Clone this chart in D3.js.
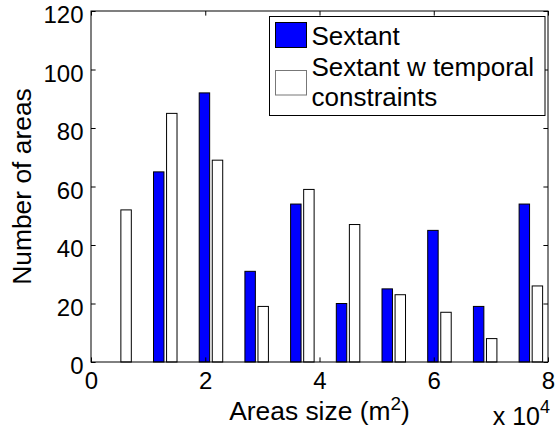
<!DOCTYPE html>
<html>
<head>
<meta charset="utf-8">
<script src="https://cdn.jsdelivr.net/npm/d3@7"></script>
<style>
  html, body { margin: 0; padding: 0; background: #fff; }
  svg { display: block; font-family: "Liberation Sans", Arial, sans-serif; }
</style>
</head>
<body>
<svg id="chart" width="555" height="431"></svg>
<script>
// ---- data ----
const binCenters = [0.5, 1.3, 2.1, 2.9, 3.7, 4.5, 5.3, 6.1, 6.9, 7.7]; // x 10^4 m^2
const sextant    = [0, 65, 92, 31, 54, 20, 25, 45, 19, 54];
const temporal   = [52, 85, 69, 19, 59, 47, 23, 17, 8, 26];
const seriesNames = ["Sextant", "Sextant w temporal", "constraints"];
const xTicks = [0, 2, 4, 6, 8];
const yTicks = [0, 20, 40, 60, 80, 100, 120];

// ---- layout ----
const svg = d3.select("#chart");
const L = 91, R = 548, T = 11, B = 362;
const x = d3.scaleLinear().domain([0, 8]).range([L, R]);
const y = d3.scaleLinear().domain([0, 120]).range([B, T]);

const binSpacing = 0.8;
const slot = binSpacing * (2 / 3.5) / 2;
const barW = slot * 0.8;

const g = svg.append("g");

// bars
const series = [
  {vals: sextant, off: -slot / 2, fill: "#0000ff"},
  {vals: temporal, off: slot / 2, fill: "#ffffff"}
];
series.forEach(s => {
  g.selectAll(null).data(binCenters).enter().append("rect")
    .attr("x", (d) => x(d + s.off - barW / 2))
    .attr("width", (d) => x(d + s.off + barW / 2) - x(d + s.off - barW / 2))
    .attr("y", (d, i) => y(s.vals[i]))
    .attr("height", (d, i) => y(0) - y(s.vals[i]))
    .attr("fill", s.fill)
    .attr("stroke", "#000")
    .attr("stroke-width", 1);
});

// box
svg.append("rect").attr("x", L).attr("y", T).attr("width", R - L).attr("height", B - T)
  .attr("fill", "none").attr("stroke", "#000").attr("stroke-width", 1);

const tl = 4.6;
// bottom/top ticks (inward)
const xAxisB = d3.axisBottom(x).tickValues(xTicks).tickSizeInner(-tl).tickSizeOuter(0).tickPadding(0).tickFormat(d3.format("d"));
const gxb = svg.append("g").attr("transform", `translate(0,${B})`).call(xAxisB);
gxb.select(".domain").remove();
gxb.selectAll("text").attr("font-size", 24).attr("fill", "#000").attr("dy", null).attr("y", 27);
gxb.selectAll("line").attr("stroke", "#000");

const xAxisT = d3.axisTop(x).tickValues(xTicks).tickSizeInner(-tl).tickSizeOuter(0).tickFormat("");
const gxt = svg.append("g").attr("transform", `translate(0,${T})`).call(xAxisT);
gxt.select(".domain").remove();
gxt.selectAll("line").attr("stroke", "#000");

const yAxisL = d3.axisLeft(y).tickValues(yTicks).tickSizeInner(-tl).tickSizeOuter(0).tickPadding(0).tickFormat(d3.format("d"));
const gyl = svg.append("g").attr("transform", `translate(${L},0)`).call(yAxisL);
gyl.select(".domain").remove();
gyl.selectAll("text").attr("font-size", 24).attr("fill", "#000").attr("x", -7.5).attr("dy", null).attr("y", 11.5);
gyl.selectAll("line").attr("stroke", "#000");

const yAxisR = d3.axisRight(y).tickValues(yTicks).tickSizeInner(-tl).tickSizeOuter(0).tickFormat("");
const gyr = svg.append("g").attr("transform", `translate(${R},0)`).call(yAxisR);
gyr.select(".domain").remove();
gyr.selectAll("line").attr("stroke", "#000");

// axis labels
const xl = svg.append("text").attr("x", (L + R) / 2).attr("y", 420)
  .attr("text-anchor", "middle").attr("font-size", 26.4).attr("fill", "#000");
xl.append("tspan").text("Areas size (m");
xl.append("tspan").attr("dy", -10).attr("font-size", 19).text("2");
xl.append("tspan").attr("dy", 10).text(")");

svg.append("text").attr("transform", `translate(31,${(T + B) / 2}) rotate(-90)`)
  .attr("text-anchor", "middle").attr("font-size", 26.4).attr("fill", "#000")
  .text("Number of areas");

// exponent label
const ex = svg.append("text").attr("x", 550).attr("y", 425).attr("text-anchor", "end")
  .attr("font-size", 25).attr("fill", "#000");
ex.append("tspan").text("x 10");
ex.append("tspan").attr("dy", -12).attr("font-size", 18).text("4");

// legend
const leg = svg.append("g");
leg.append("rect").attr("x", 269.5).attr("y", 16.5).attr("width", 275.5).attr("height", 99)
  .attr("fill", "#fff").attr("stroke", "#000").attr("stroke-width", 1);
leg.append("rect").attr("x", 275.5).attr("y", 22.5).attr("width", 31).attr("height", 25)
  .attr("fill", "#0000ff").attr("stroke", "#000");
leg.append("rect").attr("x", 275.5).attr("y", 70.5).attr("width", 31).attr("height", 24.5)
  .attr("fill", "#fff").attr("stroke", "#777");
leg.append("text").attr("x", 311.5).attr("y", 45).attr("font-size", 26).attr("fill", "#000").text(seriesNames[0]);
leg.append("text").attr("x", 311.5).attr("y", 75.5).attr("font-size", 26).attr("fill", "#000").text(seriesNames[1]);
leg.append("text").attr("x", 311.5).attr("y", 106).attr("font-size", 26).attr("fill", "#000").text(seriesNames[2]);
</script>
</body>
</html>
